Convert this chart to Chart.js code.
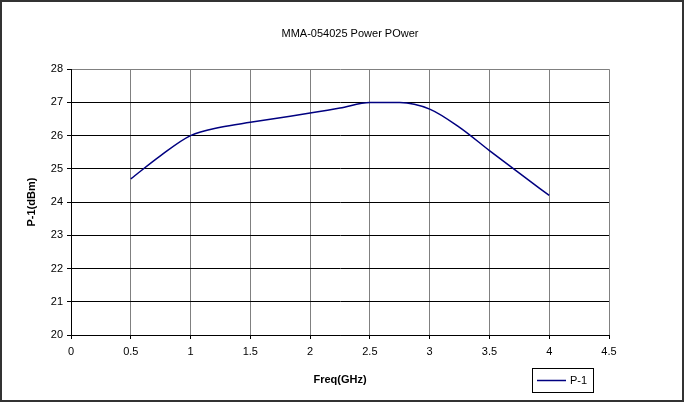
<!DOCTYPE html>
<html>
<head>
<meta charset="utf-8">
<script src="https://cdn.jsdelivr.net/npm/chart.js@4.4.1/dist/chart.umd.min.js"></script>
<style>
  html, body { margin: 0; padding: 0; background: #fff; }
  #wrap { width: 684px; height: 402px; }
</style>
</head>
<body>
<div id="wrap"><canvas id="powerChart" width="684" height="402"></canvas></div>
<script>
const freqs = [0.5, 0.75, 1.0, 1.25, 1.5, 1.75, 2.0, 2.25, 2.5, 2.75, 3.0, 3.25, 3.5, 3.75, 4.0];
const p1 = [24.7, 25.4, 26.0, 26.25, 26.4, 26.54, 26.68, 26.83, 27.0, 27.0, 26.8, 26.25, 25.55, 24.87, 24.2];
const xTicks = { min: 0, max: 4.5, step: 0.5 };
const yTicks = { min: 20, max: 28, step: 1 };

const FONT = "'Liberation Sans', Arial, sans-serif";

// outer frame + legend box in the lower right, like the spreadsheet chart
const framePlugin = {
  id: 'frame',
  beforeDraw(chart) {
    const ctx = chart.ctx;
    ctx.save();
    ctx.fillStyle = '#fff';
    ctx.fillRect(0, 0, chart.width, chart.height);
    ctx.restore();
  },
  afterDraw(chart) {
    const ctx = chart.ctx;
    ctx.save();
    ctx.strokeStyle = '#333';
    ctx.lineWidth = 2;
    ctx.strokeRect(1, 1, chart.width - 2, chart.height - 2);

    const ds = chart.data.datasets[0];
    ctx.strokeStyle = '#000';
    ctx.lineWidth = 1;
    ctx.strokeRect(532.5, 368.5, 61, 24);
    ctx.strokeStyle = ds.borderColor;
    ctx.lineWidth = 1.5;
    ctx.beginPath();
    ctx.moveTo(537, 380.5);
    ctx.lineTo(566, 380.5);
    ctx.stroke();
    ctx.fillStyle = '#000';
    ctx.font = '11px ' + FONT;
    ctx.textBaseline = 'middle';
    ctx.fillText(ds.label, 570, 381);
    ctx.restore();
  }
};

function renderPowerChart() {
  const ctx = document.getElementById('powerChart').getContext('2d');
  new Chart(ctx, {
    type: 'line',
    data: {
      datasets: [{
        label: 'P-1',
        data: freqs.map((f, i) => ({ x: f, y: p1[i] })),
        borderColor: '#000080',
        borderWidth: 1.5,
        pointRadius: 0,
        cubicInterpolationMode: 'monotone',
        fill: false
      }]
    },
    options: {
      responsive: false,
      animation: false,
      devicePixelRatio: 1,
      layout: { padding: { left: 16, right: 0, top: 0, bottom: 0 } },
      plugins: {
        legend: { display: false },
        tooltip: { enabled: false },
        title: {
          display: true,
          text: 'MMA-054025 Power POwer',
          color: '#000',
          font: { family: FONT, size: 11, weight: 'normal' },
          padding: { top: 27, bottom: 29 }
        }
      },
      scales: {
        x: {
          type: 'linear',
          min: xTicks.min,
          max: xTicks.max,
          afterFit: s => { s.height = 67; },
          ticks: {
            stepSize: xTicks.step,
            color: '#000',
            padding: 6,
            maxRotation: 0,
            font: { family: FONT, size: 11 },
            callback: v => String(v)
          },
          grid: { color: '#808080', tickColor: '#000', tickLength: 4, lineWidth: 1 },
          border: { color: '#000', width: 1 },
          title: {
            display: true,
            text: 'Freq(GHz)',
            color: '#000',
            font: { family: FONT, size: 11, weight: 'bold' },
            padding: { top: 0, bottom: 15.5 }
          }
        },
        y: {
          min: yTicks.min,
          max: yTicks.max,
          afterFit: s => { s.width = 55; },
          ticks: {
            stepSize: yTicks.step,
            color: '#000',
            padding: 4,
            font: { family: FONT, size: 11 },
            callback: v => String(v)
          },
          grid: {
            color: c => (c.tick && c.tick.value === yTicks.max ? '#808080' : '#000'),
            tickColor: '#000',
            tickLength: 4,
            lineWidth: 1
          },
          border: { color: '#000', width: 1 },
          title: {
            display: true,
            text: 'P-1(dBm)',
            color: '#000',
            font: { family: FONT, size: 11, weight: 'bold' },
            padding: { top: 9, bottom: 0 }
          }
        },
        // empty right-hand box so the plot ends at the same place as the original
        yRight: {
          position: 'right',
          min: yTicks.min,
          max: yTicks.max,
          afterFit: s => { s.width = 75; },
          ticks: { display: false },
          grid: { display: false, drawOnChartArea: false },
          border: { display: false }
        }
      }
    },
    plugins: [framePlugin]
  });
}

document.addEventListener('DOMContentLoaded', () => {
  renderPowerChart();
});
</script>
</body>
</html>
